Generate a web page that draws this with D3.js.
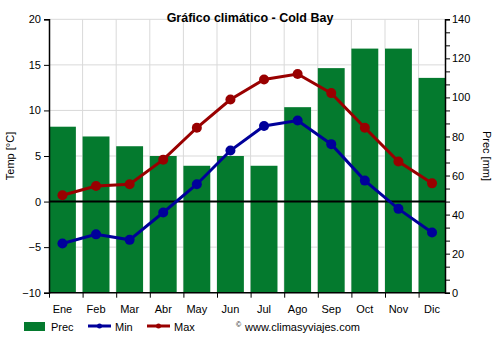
<!DOCTYPE html>
<html><head><meta charset="utf-8">
<script src="https://cdn.jsdelivr.net/npm/d3@7"></script>
<style>body{margin:0;background:#fff}text{font-family:"Liberation Sans",Arial,sans-serif}</style>
</head><body><svg id="c" width="500" height="350"></svg>
<script>
const months = ["Ene","Feb","Mar","Abr","May","Jun","Jul","Ago","Sep","Oct","Nov","Dic"];
const prec = [85,80,75,70,65,70,65,95,115,125,125,110];
const tmin = [-4.6,-3.6,-4.2,-1.2,1.9,5.6,8.3,8.9,6.3,2.3,-0.8,-3.4];
const tmax = [0.7,1.7,1.9,4.6,8.1,11.2,13.4,14.0,11.9,8.1,4.4,2.0];
const tempTicks = [-10,-5,0,5,10,15,20];
const precTicks = [0,20,40,60,80,100,120,140];

const svg = d3.select("#c");
const L=49, R=445, T=19.3, B=292.7;
const x = d3.scaleLinear().domain([0,12]).range([L, 452.2]);
const step = x(1)-x(0);
const yT = d3.scaleLinear().domain([-10,20]).range([B,T]);
const yP = d3.scaleLinear().domain([0,140]).range([B,T]);
const green="#047a2e", blue="#00009a", red="#990000";

// grid
const g = svg.append("g");
tempTicks.forEach(t=>{ g.append("line").attr("x1",L).attr("x2",R).attr("y1",yT(t)).attr("y2",yT(t)).attr("stroke","#d9d9d9").attr("stroke-width",1);});
for(let i=1;i<12;i++){ g.append("line").attr("x1",x(i)).attr("x2",x(i)).attr("y1",T).attr("y2",B).attr("stroke","#d9d9d9"); }

// bars
svg.append("g").selectAll("rect").data(prec).join("rect")
 .attr("x",(d,i)=>x(i)).attr("width",step*0.8)
 .attr("y",d=>yP(d)).attr("height",d=>yP(0)-yP(d)).attr("fill",green);

// zero line
svg.append("line").attr("x1",L).attr("x2",R).attr("y1",yT(0)).attr("y2",yT(0)).attr("stroke","#000").attr("stroke-width",2);

const cx = i => x(i)+step*0.4;
function series(data,color){
  svg.append("path").datum(data).attr("fill","none").attr("stroke",color).attr("stroke-width",3)
    .attr("d",d3.line().x((d,i)=>cx(i)).y(d=>yT(d)));
  svg.append("g").selectAll("circle").data(data).join("circle")
    .attr("cx",(d,i)=>cx(i)).attr("cy",d=>yT(d)).attr("r",5).attr("fill",color);
}
series(tmin,blue); series(tmax,red);

// left axis
const ax = svg.append("g").attr("transform",`translate(${L},0)`)
 .call(d3.axisLeft(yT).tickValues(tempTicks).tickSize(5).tickPadding(3));
ax.select(".domain").attr("stroke","#000").attr("stroke-width",1.5);
ax.selectAll("text").attr("font-size",11).attr("fill","#000").style("font-family","Liberation Sans, Arial, sans-serif");

// right axis
const minor = d3.range(0,22).map(i=>i*20/3);
const ar = svg.append("g").attr("transform",`translate(${R},0)`)
 .call(d3.axisRight(yP).tickValues(minor).tickSize(5).tickPadding(2)
   .tickFormat(d=> precTicks.some(p=>Math.abs(p-d)<1e-6) ? d3.format("d")(Math.round(d)) : ""));
ar.select(".domain").attr("stroke","#000").attr("stroke-width",1.5);
ar.selectAll("text").attr("font-size",11).attr("fill","#000").style("font-family","Liberation Sans, Arial, sans-serif");

// bottom axis
const ab = svg.append("g").attr("transform",`translate(0,${B})`)
 .call(d3.axisBottom(x).tickValues(d3.range(0,12)).tickSize(5).tickFormat(""));
ab.select(".domain").remove();
svg.append("line").attr("x1",L).attr("x2",R).attr("y1",B).attr("y2",B).attr("stroke","#000").attr("stroke-width",1.5);
svg.append("g").selectAll("text").data(months).join("text")
 .attr("x",(d,i)=>cx(i)).attr("y",B+20).attr("text-anchor","middle").attr("font-size",11).text(d=>d);

// titles
svg.append("text").attr("x",250).attr("y",22).attr("text-anchor","middle").attr("font-size",12.5).attr("font-weight","bold").text("Gráfico climático - Cold Bay");
svg.append("text").attr("transform","translate(14,156) rotate(-90)").attr("text-anchor","middle").attr("font-size",11).text("Temp [°C]");
svg.append("text").attr("transform","translate(483,156) rotate(90)").attr("text-anchor","middle").attr("font-size",11).text("Prec [mm]");

// legend
const lg = svg.append("g");
lg.append("rect").attr("x",24).attr("y",322).attr("width",21).attr("height",9).attr("fill",green);
lg.append("text").attr("x",51).attr("y",330.5).attr("font-size",11).text("Prec");
[[88,blue,"Min"],[147,red,"Max"]].forEach(([lx,c,t])=>{
  lg.append("line").attr("x1",lx).attr("x2",lx+23).attr("y1",326).attr("y2",326).attr("stroke",c).attr("stroke-width",3);
  lg.append("circle").attr("cx",lx+11.5).attr("cy",326).attr("r",2.5).attr("fill",c);
  lg.append("text").attr("x",lx+27).attr("y",330.5).attr("font-size",11).text(t);
});
lg.append("text").attr("x",236).attr("y",327).attr("font-size",7).text("©");
lg.append("text").attr("x",245).attr("y",330.5).attr("font-size",11).text("www.climasyviajes.com");
</script></body></html>
